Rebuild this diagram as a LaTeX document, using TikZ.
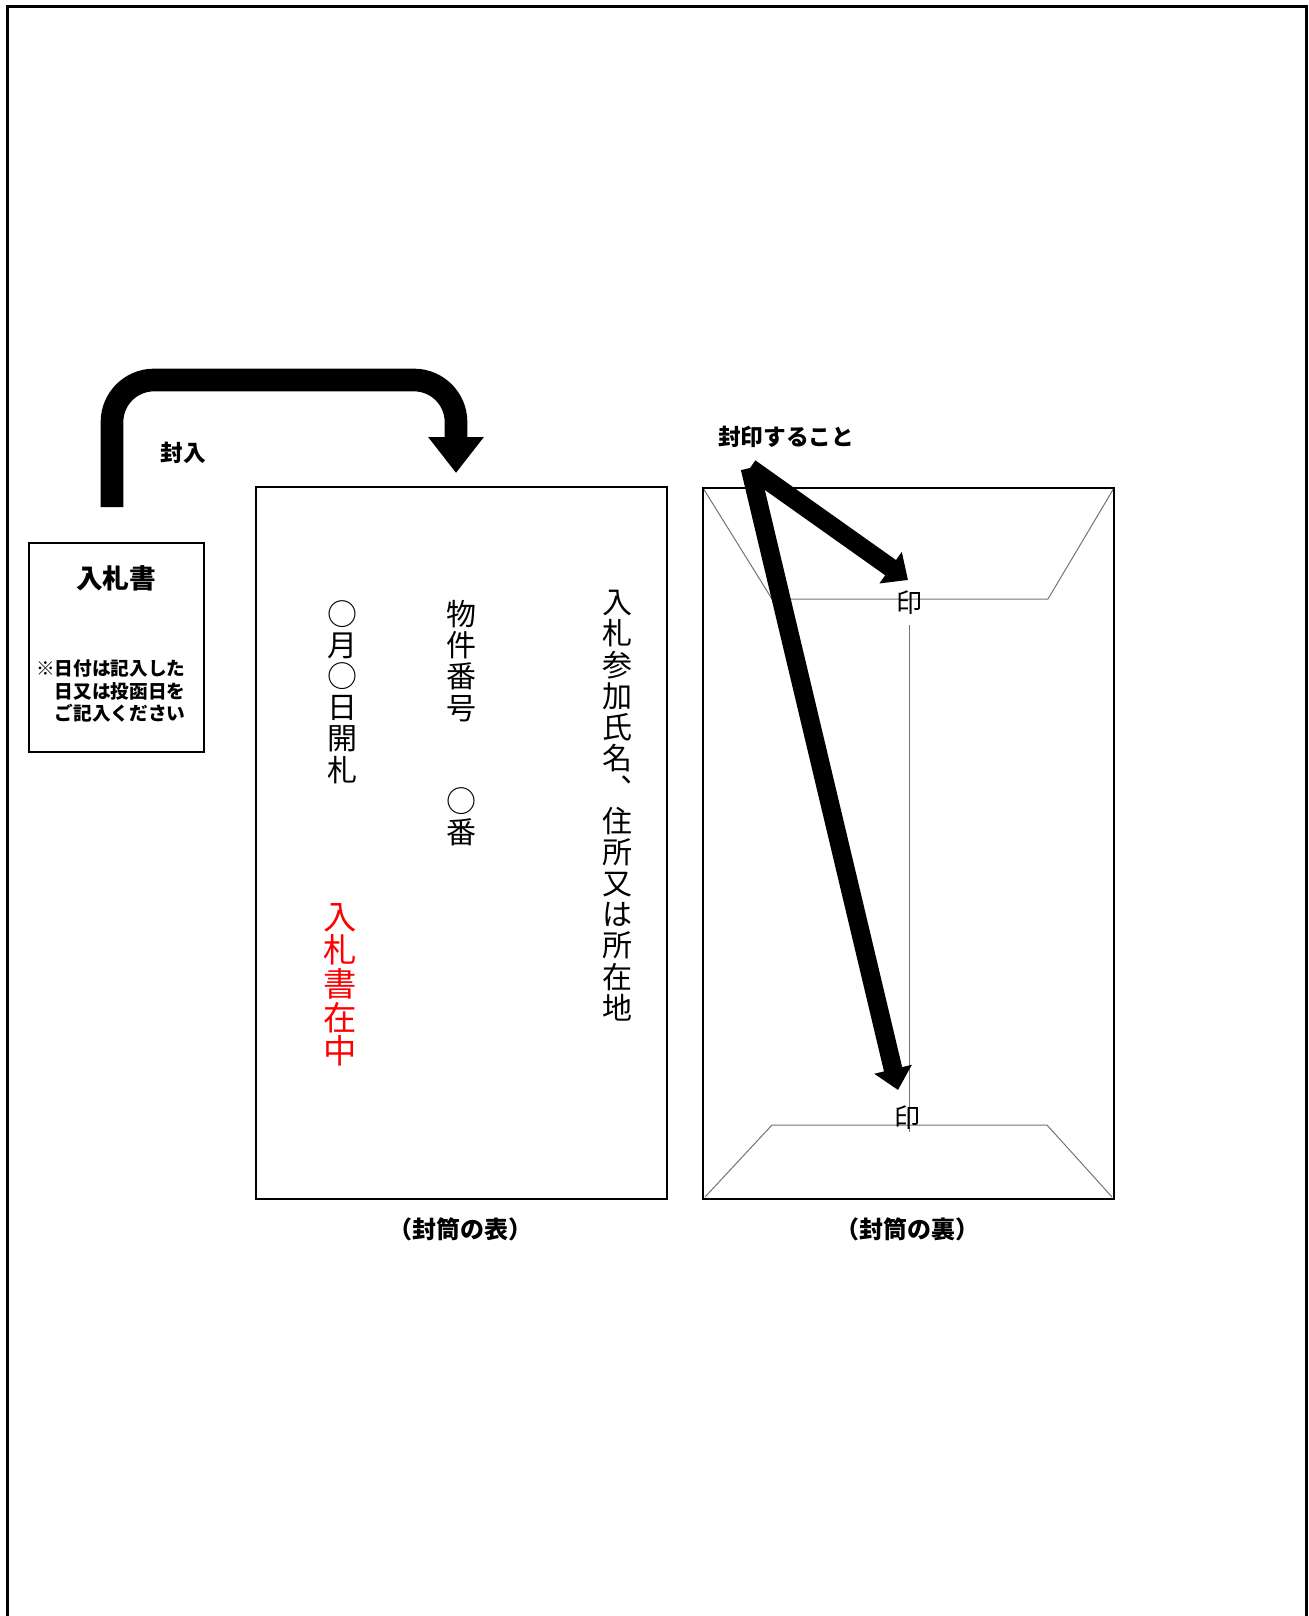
\documentclass[tikz,border=0pt]{standalone}
\usepackage{fontspec}
\setmainfont{Noto Sans CJK JP}
\usetikzlibrary{arrows.meta}
\begin{document}
\begin{tikzpicture}
  [x=0.75pt,y=-0.75pt,every node/.style={inner sep=0pt},
   tate/.style={align=center,anchor=north,font=\fontsize{22.5pt}{23.4pt}\selectfont},
   bold/.style={font=\bfseries\fontsize{#1}{#1}\selectfont},
   fold/.style={draw=black!55,line width=0.75pt},
   fat arrow/.style={line width=14pt,-{Triangle[width=28pt,length=16pt]}}]
  \useasboundingbox (0,0) rectangle (1309,1616);
  \draw[line width=2.25pt] (7,1640) -- (7,7) -- (1306,7) -- (1306,1640);

  \draw[line width=1.5pt] (29,543) rectangle (204,752);
  \node[bold=20pt] (title) at (116,578) {入札書};
  \node[align=left,anchor=west,font=\bfseries\fontsize{14pt}{17pt}\selectfont] (note) at (36,691)
    {※日付は記入した\\\phantom{※}日又は投函日を\\\phantom{※}ご記入ください};

  \draw[line width=1.5pt] (256,487) rectangle (667,1199);
  \node[tate] (addr) at (617,590) {入\\札\\参\\加\\氏\\名\\︑\\住\\所\\又\\は\\所\\在\\地};
  \node[tate] (num) at (461,600) {物\\件\\番\\号\\　\\　\\○\\番};
  \node[tate] (day) at (342,600) {○\\月\\○\\日\\開\\札};
  \node[tate,text=red,font=\fontsize{25pt}{25.2pt}\selectfont] (zaichu) at (340,903) {入\\札\\書\\在\\中};
  \node[bold=18pt] (omote) at (460,1229) {（封筒の表）};

  \draw[fold] (703,488) -- (772,599) -- (1048,599) -- (1114,488);
  \draw[fold] (705,1197) -- (772,1125) -- (1047,1125) -- (1112,1197);
  \draw[fold] (909,625) -- (909,1132);
  \draw[line width=1.5pt] (703,488) rectangle (1114,1199);
  \node[font=\fontsize{19.5pt}{19.5pt}\selectfont] (seal1) at (909,603) {印};
  \node[font=\fontsize{19.5pt}{19.5pt}\selectfont] (seal2) at (907,1118) {印};
  \node[bold=18pt] (ura) at (907,1229) {（封筒の裏）};

  \node[bold=17pt] (fuunyu) at (183,453) {封入};
  \coordinate (in1) at (112,507);
  \coordinate (in2) at (456,473);
  \draw[line width=17pt,rounded corners=31.5pt,-{Triangle[width=40pt,length=27pt]}]
    (in1) -- ++(0,-127) -| (in2);

  \node[bold=17pt] (fuuin) at (786,437) {封印すること};
  \coordinate (s) at (750,468);
  \coordinate (t1) at (908,580);
  \coordinate (t2) at (898,1090);
  \foreach \to in {t1,t2}
    \draw[fat arrow] (s) -- (\to);
\end{tikzpicture}
\end{document}
